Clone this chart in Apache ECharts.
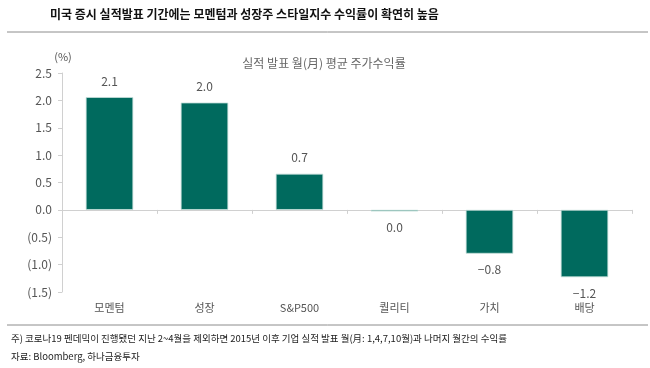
<!DOCTYPE html>
<html><head><meta charset="utf-8">
<script src="https://cdn.jsdelivr.net/npm/echarts@6/dist/echarts.min.js"></script>
<style>html,body{margin:0;padding:0;background:#fff}#c{width:650px;height:368px}</style>
</head><body><div id="c"></div>
<script>
var categories = ['모멘텀', '성장', 'S&P500', '퀄리티', '가치', '배당'];
var values = [2.06, 1.96, 0.66, -0.03, -0.8, -1.23];
var yTicks = { min: -1.5, max: 2.5, interval: 0.5 };
var titleText = '미국 증시 실적발표 기간에는 모멘텀과 성장주 스타일지수 수익률이 확연히 높음';
var subtitleText = '실적 발표 월(月) 평균 주가수익률';
var unitText = '(%)';
var note1 = '주) 코로나19 펜데믹이 진행됐던 지난 2~4월을 제외하면 2015년 이후 기업 실적 발표 월(月: 1,4,7,10월)과 나머지 월간의 수익률';
var note2 = '자료: Bloomberg, 하나금융투자';

var FONT = '"Noto Sans CJK KR", "Noto Sans", sans-serif';
function fmtVal(v) {
  var s = Math.abs(v).toFixed(1);
  if (s === '0.0') return '0.0';
  return v < 0 ? '\u2212' + s : s;
}
function fmtAxis(v) {
  var s = Math.abs(v).toFixed(1);
  return v < 0 ? '(' + s + ')' : s;
}
var chart = echarts.init(document.getElementById('c'), null, { renderer: 'canvas' });
chart.setOption({
  animation: false,
  textStyle: { fontFamily: FONT },
  graphic: [
    { type: 'text', left: 50, top: 8, style: { text: titleText, font: 'bold 12px ' + FONT, fill: '#111' } },
    { type: 'line', shape: { x1: 7, y1: 32, x2: 648, y2: 32 }, style: { stroke: '#8c8c8c', lineWidth: 1 } },
    { type: 'text', x: 324, y: 63, style: { text: subtitleText, font: '12px ' + FONT, fill: '#666', align: 'center', verticalAlign: 'middle' } },
    { type: 'text', x: 63, y: 57, style: { text: unitText, font: '11px ' + FONT, fill: '#555', align: 'center', verticalAlign: 'middle' } },
    { type: 'line', shape: { x1: 7, y1: 325, x2: 648, y2: 325 }, style: { stroke: '#8c8c8c', lineWidth: 1 } },
    { type: 'text', x: 11, y: 338, style: { text: note1, font: '9.5px ' + FONT, fill: '#222', verticalAlign: 'middle' } },
    { type: 'text', x: 11, y: 356, style: { text: note2, font: '9.5px ' + FONT, fill: '#222', verticalAlign: 'middle' } }
  ],
  grid: { left: 62, right: 18, top: 73, bottom: 76, containLabel: false },
  xAxis: [
    { type: 'category', data: categories, position: 'bottom',
      axisLine: { onZero: true, lineStyle: { color: '#d0d0d0' } },
      axisTick: { show: true, length: 4, lineStyle: { color: '#d0d0d0' } },
      axisLabel: { show: false } },
    { type: 'category', data: categories, position: 'bottom', offset: 0,
      axisLine: { show: false }, axisTick: { show: false },
      axisLabel: { show: true, color: '#555', fontSize: 11, margin: 10, fontFamily: FONT } }
  ],
  yAxis: {
    type: 'value', min: yTicks.min, max: yTicks.max, interval: yTicks.interval,
    axisLine: { show: true, lineStyle: { color: '#d0d0d0' } },
    axisTick: { show: true, length: 4, lineStyle: { color: '#d0d0d0' } },
    splitLine: { show: false },
    axisLabel: { color: '#555', fontSize: 12, margin: 10, formatter: fmtAxis, fontFamily: FONT }
  },
  series: [{
    type: 'bar', data: values, barWidth: '50%', xAxisIndex: 0,
    itemStyle: { color: '#006a5e', borderColor: '#c5e0da', borderWidth: 0.8 },
    label: { show: true, position: 'outside', distance: 10, color: '#555', fontSize: 12,
      fontFamily: FONT, formatter: function (p) { return fmtVal(p.value); } }
  }]
});
</script></body></html>
